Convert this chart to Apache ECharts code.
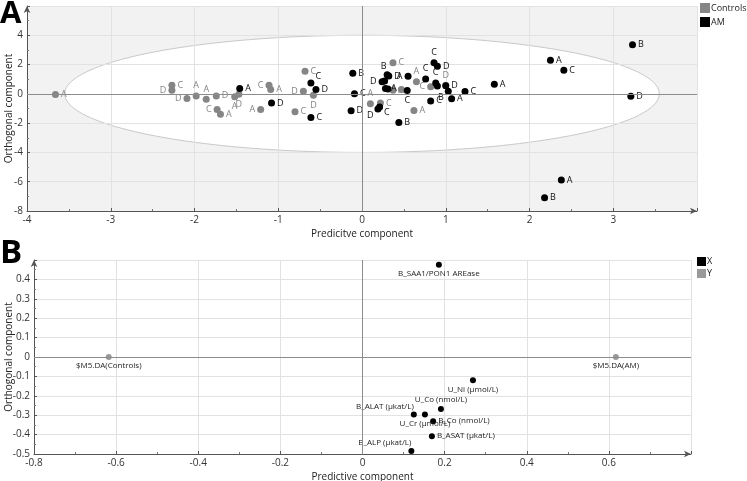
<!DOCTYPE html>
<html>
<head>
<meta charset="utf-8">
<script src="https://cdn.jsdelivr.net/npm/echarts@6/dist/echarts.min.js"></script>
<style>html,body{margin:0;padding:0;background:#fff}#c{width:747px;height:481px}</style>
</head>
<body>
<div id="c"></div>
<script>
// ---------- Panel A: scores ----------
const controlsScores = [
  [-3.66,-0.04,'A'],[-2.27,0.59,'C'],[-2.27,0.25,'D'],[-2.09,-0.31,'D'],[-1.98,-0.14,'A'],
  [-1.86,-0.36,'A'],[-1.74,-0.14,'D'],[-1.73,-1.07,'C'],[-1.69,-1.39,'A'],[-1.52,-0.20,'A'],
  [-1.47,-0.02,'D'],[-1.11,0.59,'C'],[-1.09,0.30,'A'],[-1.21,-1.07,'A'],[-0.68,1.55,'C'],
  [-0.70,0.18,'D'],[-0.58,-0.09,'D'],[-0.80,-1.23,'C'],[0.10,-0.68,'A'],[0.22,-0.63,'C'],
  [0.37,2.12,'C'],[0.65,0.82,'A'],[0.37,0.25,'A'],[0.47,0.30,'A'],[0.82,0.48,'C'],
  [1.00,0.59,'D'],[0.62,-1.13,'A']
];
const controlsLabelSide = ['r','r','l','l','t','t','r','l','r','b','b','l','r','l','r','l','b','r','t','r','r','t','r','l','l','t','r'];

const amScores = [
  [-1.46,0.37,'A'],[-1.08,-0.63,'D'],[-0.61,0.75,'C'],[-0.55,0.30,'D'],[-0.61,-1.61,'C'],
  [-0.11,1.41,'B'],[-0.09,0.00,'C'],[-0.13,-1.16,'D'],[0.19,-1.04,'D'],[0.21,-0.89,'C'],
  [0.44,-1.95,'B'],[0.30,1.30,'B'],[0.32,1.22,'D'],[0.24,0.82,'D'],[0.27,0.87,''],
  [0.55,1.21,'A'],[0.28,0.37,'A'],[0.31,0.34,''],[0.54,0.23,'C'],[0.76,1.02,'C'],
  [0.86,2.12,'C'],[0.90,1.89,'D'],[0.88,0.75,'C'],[0.90,0.53,''],[1.03,0.18,'B'],
  [0.82,-0.48,'C'],[1.07,-0.34,'A'],[1.23,0.16,'C'],[1.58,0.66,'A'],[2.25,2.30,'A'],
  [2.41,1.62,'C'],[3.23,3.35,'B'],[3.21,-0.16,'D'],[2.38,-5.89,'A'],[2.18,-7.10,'B'],
  [1.00,0.55,'D']
];
const amLabelSide = ['r','r','tr','r','r','r','r','r','bl','br','r','tl','r','l','r','l','r','r','b','t','t','r','t','r','bl','r','r','r','r','r','r','r','r','r','r','r'];

const ellipseAxes = [[3.55, 4.0]];  // T2 ellipse semi-axes (predictive, orthogonal)

// ---------- Panel B: loadings ----------
const xLoadings = [
  ['B_SAA1/PON1 AREase',0.186,0.476],['U_Ni (µmol/L)',0.269,-0.120],['U_Co (nmol/L)',0.191,-0.268],
  ['B_ALAT (µkat/L)',0.125,-0.297],['U_Cr (µmol/L)',0.152,-0.297],['B_Co (nmol/L)',0.172,-0.331],
  ['B_ASAT (µkat/L)',0.169,-0.408],['B_ALP (µkat/L)',0.119,-0.484]
];
const xLabelSide = ['b','b','t','tl','b','r','r','tl'];
const yLoadings = [['$M5.DA(Controls)',-0.618,0],['$M5.DA(AM)',0.617,0]];
const yLabelSide = ['b','b'];

const FONT = 'Open Sans';
const GREY = '#858585', BLACK = '#000000';

function sideStyle(s){
  switch(s){
    case 'r': return {position:'right', distance:2};
    case 'l': return {position:'left', distance:2};
    case 't': return {position:'top', distance:2};
    case 'b': return {position:'bottom', distance:2};
    case 'tr': return {position:'right', distance:1, offset:[0,-6]};
    case 'br': return {position:'right', distance:1, offset:[0,6]};
    case 'tl': return {position:'left', distance:1, offset:[4,-8]};
    case 'bl': return {position:'left', distance:1, offset:[0,6]};
  }
  return {position:'right'};
}
function scoreItems(arr, sides){
  return arr.map((d,i)=>({value:[d[0],d[1]], name:d[2], label:sideStyle(sides[i])}));
}
function loadItems(arr, sides){
  return arr.map((d,i)=>({value:[d[1],d[2]], name:d[0], label:sideStyle(sides[i])}));
}

function axisCommon(){
  return {
    axisLine:{show:true, lineStyle:{color:'#555', width:1}, symbol:['none','arrow'], symbolSize:[5,7], onZero:false},
    axisTick:{show:true, inside:true, length:3, lineStyle:{color:'#555'}},
    minorTick:{show:true, splitNumber:2, length:2, lineStyle:{color:'#777'}},
    axisLabel:{color:'#333', fontSize:10, fontFamily:FONT, showMaxLabel:false, margin:4},
    splitLine:{show:true, lineStyle:{color:'#e2e2e2', width:1}},
    nameLocation:'middle', nameMoveOverlap:false,
    nameTextStyle:{color:'#222', fontSize:10, fontFamily:FONT}
  };
}

const zeroLines = {
  silent:true, symbol:'none', label:{show:false},
  lineStyle:{color:'#8c8c8c', type:'solid', width:1},
  data:[{yAxis:0},{xAxis:0}]
};

const chart = echarts.init(document.getElementById('c'));
chart.setOption({
  animation:false,
  backgroundColor:'#fff',
  graphic:[
    {type:'text', left:0, top:-1, style:{text:'A', font:'bold 31px "Open Sans"', fill:'#000'}},
    {type:'text', left:0, top:237, style:{text:'B', font:'bold 33px "Open Sans"', fill:'#000'}}
  ],
  legend:[
    {data:['Controls','AM'], orient:'vertical', left:700, top:3, itemWidth:10, itemHeight:10, itemGap:4,
     icon:'rect', textStyle:{fontSize:9, fontFamily:FONT, color:'#222', padding:[0,0,0,-4]}, padding:0},
    {data:['X','Y'], orient:'vertical', left:697, top:257, itemWidth:9, itemHeight:9, itemGap:3,
     icon:'rect', textStyle:{fontSize:9, fontFamily:FONT, color:'#222', padding:[0,0,0,-4]}, padding:0}
  ],
  grid:[
    {left:27, right:50, top:6, height:205, containLabel:false, outerBoundsMode:'none'},
    {left:34, right:56, top:260, height:194, containLabel:false, outerBoundsMode:'none'}
  ],
  xAxis:[
    Object.assign(axisCommon(), {gridIndex:0, type:'value', min:-4, max:4, interval:1, name:'Predicitve component', nameGap:18}),
    Object.assign(axisCommon(), {gridIndex:1, type:'value', min:-0.8, max:0.8, interval:0.2, name:'Predictive component', nameGap:18})
  ],
  yAxis:[
    Object.assign(axisCommon(), {gridIndex:0, type:'value', min:-8, max:6, interval:2, name:'Orthogonal component', nameGap:13}),
    Object.assign(axisCommon(), {gridIndex:1, type:'value', min:-0.5, max:0.5, interval:0.1, name:'Orthogonal component', nameGap:20})
  ],
  series:[
    {
      type:'custom', xAxisIndex:0, yAxisIndex:0, z:-1, silent:true,
      data:ellipseAxes.map(e=>[0,0,e[0],e[1]]),
      encode:{x:0, y:1},
      renderItem:function(params, api){
        const cs = params.coordSys;
        const a = api.value(2), b = api.value(3);
        const pts = [];
        for(let k=0;k<=180;k++){
          const t = k/180*Math.PI*2;
          pts.push(api.coord([a*Math.cos(t), b*Math.sin(t)]));
        }
        return {type:'group', children:[
          {type:'rect', shape:{x:cs.x, y:cs.y, width:cs.width, height:cs.height}, style:{fill:'#f2f2f2'}},
          {type:'polygon', shape:{points:pts}, style:{fill:'#ffffff', stroke:'#c9c9c9', lineWidth:1}}
        ]};
      }
    },
    {
      name:'Controls', type:'scatter', xAxisIndex:0, yAxisIndex:0, symbolSize:7,
      itemStyle:{color:GREY, opacity:1},
      label:{show:true, formatter:p=>p.name, color:GREY, fontSize:9, fontFamily:FONT},
      data:scoreItems(controlsScores, controlsLabelSide),
      markLine:zeroLines
    },
    {
      name:'AM', type:'scatter', xAxisIndex:0, yAxisIndex:0, symbolSize:7,
      itemStyle:{color:BLACK, opacity:1},
      label:{show:true, formatter:p=>p.name, color:'#111', fontSize:9, fontFamily:FONT},
      data:scoreItems(amScores, amLabelSide)
    },
    {
      name:'X', type:'scatter', xAxisIndex:1, yAxisIndex:1, symbolSize:6,
      itemStyle:{color:BLACK, opacity:1},
      label:{show:true, formatter:p=>p.name, color:'#222', fontSize:8, fontFamily:FONT},
      data:loadItems(xLoadings, xLabelSide),
      markLine:zeroLines
    },
    {
      name:'Y', type:'scatter', xAxisIndex:1, yAxisIndex:1, symbolSize:6,
      itemStyle:{color:'#999999', opacity:1},
      label:{show:true, formatter:p=>p.name, color:'#222', fontSize:8, fontFamily:FONT},
      data:loadItems(yLoadings, yLabelSide)
    }
  ]
});
</script>
</body>
</html>
